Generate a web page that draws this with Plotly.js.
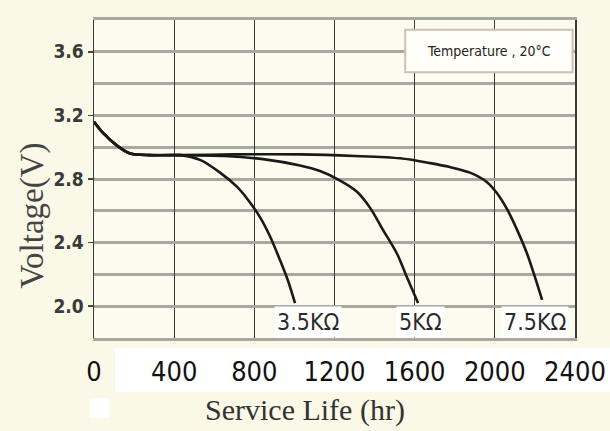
<!DOCTYPE html>
<html>
<head>
<meta charset="utf-8">
<script src="https://cdn.plot.ly/plotly-3.0.1.min.js"></script>
<style>
  html, body { margin: 0; padding: 0; background: #faf8e6; }
  #chart { width: 610px; height: 431px; }
</style>
</head>
<body>
<div id="chart"></div>
<script>
// Service life (hr) and voltage (V)
const hours_3k5 = [0, 45, 115, 180, 280, 429, 529, 629, 714, 768, 828, 878, 928, 968, 1003];
const volts_3k5 = [3.16, 3.09, 3.01, 2.96, 2.95, 2.95, 2.92, 2.84, 2.75, 2.67, 2.56, 2.44, 2.29, 2.16, 2.02];

const hours_5k = [0, 45, 115, 180, 280, 429, 650, 843, 1028, 1128, 1228, 1312, 1377, 1442, 1512, 1562, 1617];
const volts_5k = [3.16, 3.09, 3.01, 2.96, 2.95, 2.95, 2.945, 2.925, 2.885, 2.85, 2.79, 2.72, 2.62, 2.48, 2.33, 2.18, 2.02];

const hours_7k5 = [0, 45, 115, 180, 280, 429, 700, 1028, 1300, 1527, 1677, 1776, 1876, 1961, 2011, 2061, 2111, 2161, 2201, 2236];
const volts_7k5 = [3.16, 3.09, 3.01, 2.96, 2.95, 2.95, 2.955, 2.955, 2.945, 2.93, 2.90, 2.875, 2.84, 2.78, 2.71, 2.61, 2.48, 2.33, 2.18, 2.04];

const curveLabels = ["3.5KΩ", "5KΩ", "7.5KΩ"];
const xTickVals = [0, 400, 800, 1200, 1600, 2000, 2400];
const yTickVals = [2.0, 2.4, 2.8, 3.2, 3.6];
const yTickText = ["2.0", "2.4", "2.8", "3.2", "3.6"];
const noteText = "Temperature , 20°C";
const xTitle = "Service Life (hr)";
const yTitle = "Voltage(V)";

const lineStyle = { color: '#1a1a1a', width: 2.6, shape: 'spline', smoothing: 0.8 };
const series = [
  { x: hours_3k5, y: volts_3k5, name: curveLabels[0] },
  { x: hours_5k, y: volts_5k, name: curveLabels[1] },
  { x: hours_7k5, y: volts_7k5, name: curveLabels[2] }
];
const traces = series.map(s => ({
  type: 'scatter', mode: 'lines', x: s.x, y: s.y, name: s.name,
  line: lineStyle, hoverinfo: 'x+y+name'
}));

const narrow = '"DejaVu Sans Condensed", "Liberation Sans Narrow", Arial, sans-serif';
const serif = '"Liberation Serif", "Times New Roman", serif';

const labelPos = [0.445, 0.678, 0.917];
const annotations = curveLabels.map((t, i) => ({
  xref: 'paper', yref: 'paper', x: labelPos[i], y: 0.05,
  text: t, showarrow: false, xanchor: 'center', yanchor: 'middle',
  font: { family: narrow, size: 23, color: '#2a2a2a' },
  bgcolor: '#ffffff', borderpad: 2
}));
annotations.push({
  xref: 'paper', yref: 'paper', x: 0.822, y: 0.902,
  text: noteText, showarrow: false, xanchor: 'center', yanchor: 'middle',
  font: { family: narrow, size: 14, color: '#222' }
});
annotations.push({
  xref: 'paper', yref: 'paper', x: 0.439, y: -0.226,
  text: xTitle, showarrow: false, xanchor: 'center', yanchor: 'middle',
  font: { family: serif, size: 30, color: '#333' }
});
annotations.push({
  xref: 'paper', yref: 'paper', x: -0.127, y: 0.385,
  text: yTitle, showarrow: false, xanchor: 'center', yanchor: 'middle', textangle: -90,
  font: { family: serif, size: 33, color: '#444' }
});

const layout = {
  width: 610, height: 431,
  margin: { l: 94, r: 35, t: 20, b: 93 },
  paper_bgcolor: '#faf8e6',
  plot_bgcolor: '#fcfbef',
  showlegend: false,
  xaxis: {
    range: [0, 2400],
    tickvals: xTickVals,
    ticks: '',
    showgrid: true, gridcolor: '#3a3a3a', gridwidth: 1,
    showline: true, linecolor: '#a8a8a0', linewidth: 3, mirror: true,
    zeroline: false,
    tickfont: { family: narrow, size: 27, color: '#111' },
    ticklabelstandoff: 8,
    ticklabeloverflow: 'allow'
  },
  yaxis: {
    range: [1.8, 3.8],
    tickvals: yTickVals, ticktext: yTickText,
    ticks: 'outside', ticklen: 5, tickcolor: '#444', tickwidth: 1.5,
    showgrid: true, gridcolor: '#a8a8a0', gridwidth: 3,
    minor: { tick0: 1.8, dtick: 0.2, showgrid: true, gridcolor: '#a8a8a0', gridwidth: 3, ticks: '' },
    showline: true, linecolor: '#3a3a3a', linewidth: 1.5, mirror: true,
    zeroline: false,
    ticklabelstandoff: 0,
    tickfont: { family: narrow, size: 19, color: '#3a3a3a', weight: 'bold' }
  },
  shapes: [
    { type: 'rect', xref: 'paper', yref: 'paper', x0: 0.044, x1: 1.073, y0: -0.17, y1: -0.031,
      fillcolor: '#ffffff', line: { width: 0 }, layer: 'below' },
    { type: 'rect', xref: 'paper', yref: 'paper', x0: -0.01, x1: 0.032, y0: -0.252, y1: -0.19,
      fillcolor: '#ffffff', line: { width: 0 }, layer: 'below' },
    { type: 'rect', xref: 'paper', yref: 'paper', x0: 0.647, x1: 0.995, y0: 0.836, y1: 0.969,
      fillcolor: '#fffef8', line: { color: '#cdbfb6', width: 2 }, layer: 'above' }
  ],
  annotations: annotations
};

Plotly.newPlot('chart', traces, layout, { displayModeBar: false, staticPlot: true });
</script>
</body>
</html>
